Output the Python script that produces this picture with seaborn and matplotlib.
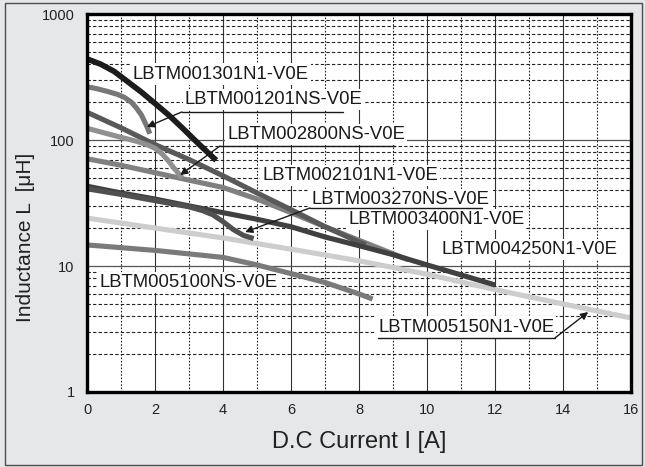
import matplotlib
matplotlib.use("Agg")
import matplotlib.pyplot as plt
import pandas as pd
import seaborn as sns
from matplotlib.patches import Rectangle
from matplotlib.ticker import FixedLocator, NullFormatter

# curve data (current in A, inductance in uH)
x_001301 = [0, 0.4, 0.8, 1.2, 1.6, 2.0, 2.4, 2.8, 3.2, 3.5, 3.8]
y_001301 = [440, 400, 350, 290, 240, 195, 158, 125, 98, 82, 69]

x_001201 = [0, 0.3, 0.6, 0.9, 1.1, 1.3, 1.45, 1.6, 1.75, 1.85]
y_001201 = [265, 255, 243, 230, 218, 200, 180, 158, 130, 112]

x_002800 = [0, 0.5, 1.0, 1.5, 1.8, 2.0, 2.2, 2.4, 2.6, 2.8]
y_002800 = [124, 114, 105, 97, 91, 86, 78, 68, 58, 50]

x_002101 = [0, 1, 2, 3, 4, 5, 6, 7, 8, 8.2]
y_002101 = [166, 125, 92, 70, 52, 38, 28, 20.5, 15.5, 14.8]

x_003400 = [0, 1, 2, 3, 4, 5, 6, 7, 8, 9, 9.45]
y_003400 = [71, 63, 55, 48, 42, 34, 26.5, 20.5, 16, 12.5, 11.2]

x_004250 = [0, 1, 2, 3, 4, 5, 6, 7, 8, 9, 10, 11, 12]
y_004250 = [43, 38, 34, 30, 26.5, 23.5, 20.5, 17, 14.5, 12.3, 10.2, 8.5, 7.07]

x_003270 = [0, 1, 2, 3, 3.4, 3.7, 4.0, 4.3, 4.6, 4.9]
y_003270 = [41, 37, 33, 29.5, 27.5, 25.5, 22.5, 19.5, 17.5, 16.5]

x_005100 = [0, 2, 4, 5, 6, 7, 8, 8.4]
y_005100 = [14.7, 13.3, 11.7, 10.2, 8.7, 7.4, 6.0, 5.47]

x_005150 = [0, 2, 4, 6, 8, 10, 12, 14, 16]
y_005150 = [24, 20, 16.7, 13.6, 11, 8.6, 6.5, 5.0, 3.87]

parts = ["LBTM005150N1-V0E", "LBTM005100NS-V0E", "LBTM003400N1-V0E",
         "LBTM002101N1-V0E", "LBTM004250N1-V0E", "LBTM003270NS-V0E",
         "LBTM002800NS-V0E", "LBTM001201NS-V0E", "LBTM001301N1-V0E"]
curves = {
    "LBTM001301N1-V0E": (x_001301, y_001301),
    "LBTM001201NS-V0E": (x_001201, y_001201),
    "LBTM002800NS-V0E": (x_002800, y_002800),
    "LBTM002101N1-V0E": (x_002101, y_002101),
    "LBTM003400N1-V0E": (x_003400, y_003400),
    "LBTM004250N1-V0E": (x_004250, y_004250),
    "LBTM003270NS-V0E": (x_003270, y_003270),
    "LBTM005100NS-V0E": (x_005100, y_005100),
    "LBTM005150N1-V0E": (x_005150, y_005150),
}
colors = {
    "LBTM001301N1-V0E": "#1c1c1c",
    "LBTM001201NS-V0E": "#777777",
    "LBTM002800NS-V0E": "#909090",
    "LBTM002101N1-V0E": "#595959",
    "LBTM003400N1-V0E": "#808080",
    "LBTM004250N1-V0E": "#404040",
    "LBTM003270NS-V0E": "#505050",
    "LBTM005100NS-V0E": "#7a7a7a",
    "LBTM005150N1-V0E": "#cdcdcd",
}

rows = []
for p in parts:
    xs, ys = curves[p]
    for xv, yv in zip(xs, ys):
        rows.append({"part": p, "I": xv, "L": yv})
df = pd.DataFrame(rows)

sns.set_style("white")
plt.rcParams["font.family"] = ["Liberation Sans", "DejaVu Sans"]

fig = plt.figure(figsize=(6.45, 4.67), dpi=100)
fig.patch.set_facecolor("#e6e7e8")
fig.patches.append(Rectangle((0.007, 0.004), 0.988, 0.99, transform=fig.transFigure,
                             fill=False, edgecolor="#4d4d4d", lw=1.0))
ax = fig.add_axes([0.1349, 0.1606, 0.8434, 0.8094])
ax.set_facecolor("white")

sns.lineplot(data=df, x="I", y="L", hue="part", hue_order=parts, palette=colors,
             estimator=None, sort=False, linewidth=3.7, legend=False, ax=ax)
for line in ax.lines:
    line.set_solid_capstyle("butt")
    line.set_solid_joinstyle("round")
    line.set_zorder(4.5)
ax.lines[-1].set_linewidth(4.1)

ax.set_yscale("log")
ax.set_xlim(0, 16)
ax.set_ylim(1, 1000)

ax.set_xticks(range(0, 17, 2))
ax.xaxis.set_minor_locator(FixedLocator(range(1, 17, 2)))
ax.set_yticks([1, 10, 100, 1000])
ax.set_yticklabels(["1", "10", "100", "1000"])
ax.yaxis.set_minor_formatter(NullFormatter())
ax.tick_params(which="both", length=0)
ax.tick_params(axis="x", labelsize=10.5, pad=8, colors="#222222")
ax.tick_params(axis="y", labelsize=10.5, pad=9, colors="#222222")

ax.grid(axis="x", which="major", color="#333333", lw=0.8, ls="-", zorder=1)
ax.grid(axis="x", which="minor", color="#222222", lw=0.8, ls=(0, (1.5, 1.5)), zorder=1)
ax.grid(axis="y", which="major", color="#555555", lw=0.9, ls="-", zorder=1)
ax.grid(axis="y", which="minor", color="#222222", lw=0.8, ls=(0, (3, 2)), zorder=1)
ax.set_axisbelow(True)

for s in ax.spines.values():
    s.set_visible(True)
    s.set_color("black")
    s.set_linewidth(2.4)
    s.set_zorder(6)

ax.set_xlabel("D.C Current I [A]", fontsize=17, labelpad=10, color="#222222")
ax.set_ylabel("Inductance L  [μH]", fontsize=15, color="#222222")
ax.yaxis.set_label_coords(-0.096, 0.41)

box = dict(facecolor="white", edgecolor="none", pad=1.5)
label_pos = {
    "LBTM001301N1-V0E": (1.35, 334),
    "LBTM001201NS-V0E": (2.88, 208),
    "LBTM002800NS-V0E": (4.12, 110),
    "LBTM002101N1-V0E": (5.15, 52.7),
    "LBTM003270NS-V0E": (6.59, 34),
    "LBTM003400N1-V0E": (7.68, 23.2),
    "LBTM004250N1-V0E": (10.44, 13.6),
    "LBTM005100NS-V0E": (0.38, 7.46),
    "LBTM005150N1-V0E": (8.56, 3.28),
}
for p, (tx, ty) in label_pos.items():
    ax.text(tx, ty, p, fontsize=13.3, ha="left", va="center", color="#1a1a1a",
            bbox=box, zorder=4)

# leader lines: underline start, underline end, arrow tip
leaders = [
    ((2.79, 167), 7.53, (1.76, 127)),
    ((3.91, 89.6), 9.06, (2.74, 52.7)),
    ((6.56, 28.9), 11.62, (4.65, 18.6)),
    ((8.56, 2.68), 13.76, (14.74, 4.31)),
]
for (ux, uy), uend, tip in leaders:
    ax.plot([ux, uend], [uy, uy], color="#1a1a1a", lw=1.0, zorder=5)
    ax.annotate("", xy=tip, xytext=(ux if tip[0] < ux else uend, uy),
                arrowprops=dict(arrowstyle="-|>", color="#1a1a1a", lw=1.0,
                                mutation_scale=11, shrinkA=0, shrinkB=0), zorder=5)

fig.savefig("out.png", dpi=100, facecolor=fig.get_facecolor())
